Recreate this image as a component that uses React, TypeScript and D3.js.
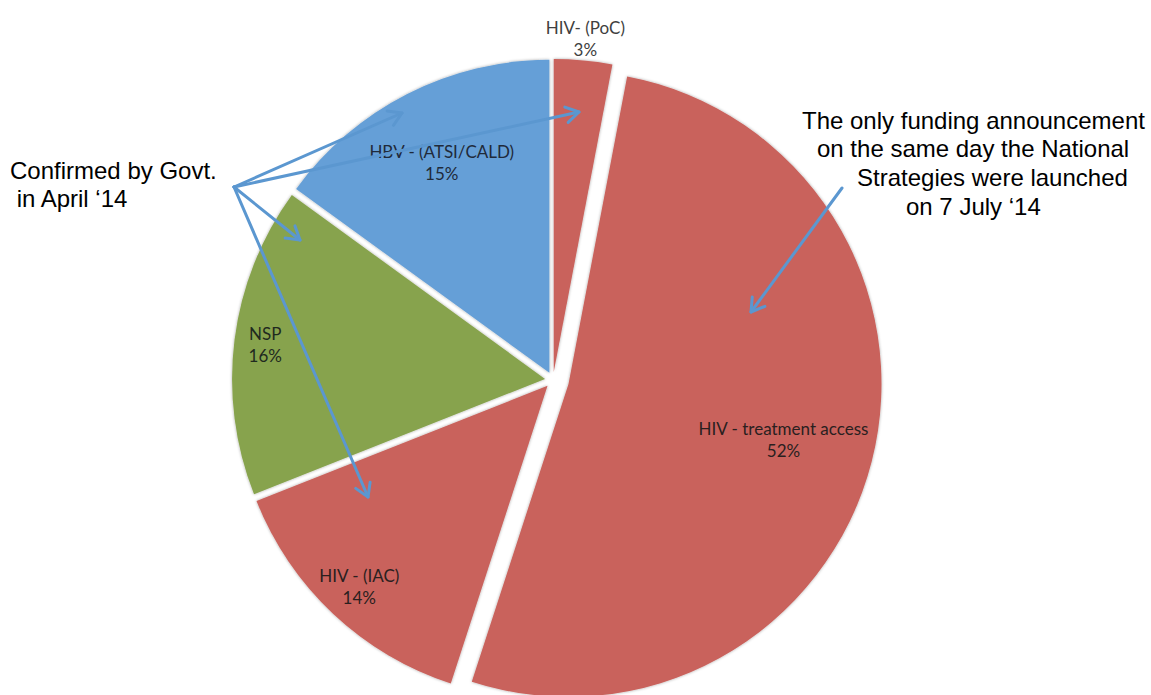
import React from "react";
import * as d3 from "d3";

// ---- data ----
const categories = ["HIV- (PoC)", "HIV - treatment access", "HIV - (IAC)", "NSP", "HBV - (ATSI/CALD)"];
const values = [3, 52, 14, 16, 15];
const percentLabels = ["3%", "52%", "14%", "16%", "15%"];

// ---- styling / layout config ----
const W = 1151;
const H = 695;
const CX = 553;
const CY = 380;
const R = 313;
const sliceColors = ["#C9625C", "#C9625C", "#C9625C", "#87A34D", "#659FD7"];
const explode = [8, 16, 8, 8, 8];
const labelDist = [336, 222, 275, 282, 237];
const labelColors = ["#404040", "#2a1f1f", "#2a1f1f", "#1f2a1f", "#1f2a3a"];

const arrowColor = "#5B97D0";
const leftOrigin: [number, number] = [234, 187];
const leftTargets: [number, number][] = [
  [402, 113],
  [579, 112],
  [300, 240],
  [368, 497],
];
const rightArrow: [[number, number], [number, number]] = [
  [842, 188],
  [751, 312],
];

const leftNote = [
  { text: "Confirmed by Govt.", x: 10, y: 179 },
  { text: " in April \u201814", x: 10, y: 207 },
];
const rightNote = [
  { text: "The only funding announcement", x: 802, y: 129 },
  { text: "on the same day the National", x: 817, y: 157 },
  { text: "Strategies were launched", x: 857, y: 186 },
  { text: "on 7 July \u201814", x: 906, y: 215 },
];

function arrowHead(from: [number, number], to: [number, number], len = 15, spread = 0.55) {
  const ang = Math.atan2(to[1] - from[1], to[0] - from[0]);
  const a1 = ang + Math.PI - spread;
  const a2 = ang + Math.PI + spread;
  const p1 = [to[0] + len * Math.cos(a1), to[1] + len * Math.sin(a1)];
  const p2 = [to[0] + len * Math.cos(a2), to[1] + len * Math.sin(a2)];
  return `M${p1[0]},${p1[1]}L${to[0]},${to[1]}L${p2[0]},${p2[1]}`;
}

export default function App() {
  const pie = d3
    .pie<number>()
    .sort(null)
    .value((d) => d);
  const arcs = pie(values);
  const arcGen = d3.arc<d3.PieArcDatum<number>>().innerRadius(0).outerRadius(R);

  return (
    <svg
      width={W}
      height={H}
      viewBox={`0 0 ${W} ${H}`}
      style={{ position: "absolute", left: 0, top: 0, background: "#fff" }}
    >
      <defs>
        <filter id="shadow" x="-10%" y="-10%" width="120%" height="120%">
          <feDropShadow dx="0" dy="0" stdDeviation="1.8" floodColor="#000" floodOpacity="0.35" />
        </filter>
      </defs>
      <rect width={W} height={H} fill="#fff" />
      <g>
        {arcs.map((a, i) => {
          const mid = (a.startAngle + a.endAngle) / 2;
          const ox = CX + explode[i] * Math.sin(mid);
          const oy = CY - explode[i] * Math.cos(mid);
          return (
            <path
              key={i}
              d={arcGen(a) || ""}
              transform={`translate(${ox},${oy})`}
              fill={sliceColors[i]}
              filter="url(#shadow)"
            />
          );
        })}
      </g>
      <g fontFamily="Lato, 'Open Sans', sans-serif" fontSize={17} textAnchor="middle">
        {arcs.map((a, i) => {
          const mid = (a.startAngle + a.endAngle) / 2;
          const ox = CX + explode[i] * Math.sin(mid);
          const oy = CY - explode[i] * Math.cos(mid);
          const px = ox + labelDist[i] * Math.sin(mid);
          const py = oy - labelDist[i] * Math.cos(mid);
          return (
            <g key={i} fill={labelColors[i]}>
              <text x={px} y={py - 4}>{categories[i]}</text>
              <text x={px} y={py + 18}>{percentLabels[i]}</text>
            </g>
          );
        })}
      </g>
      <g stroke={arrowColor} strokeWidth={3} fill="none" strokeLinecap="round" strokeLinejoin="round">
        {leftTargets.map((t, i) => (
          <g key={i}>
            <line x1={leftOrigin[0]} y1={leftOrigin[1]} x2={t[0]} y2={t[1]} />
            <path d={arrowHead(leftOrigin, t)} />
          </g>
        ))}
        <line x1={rightArrow[0][0]} y1={rightArrow[0][1]} x2={rightArrow[1][0]} y2={rightArrow[1][1]} />
        <path d={arrowHead(rightArrow[0], rightArrow[1])} />
      </g>
      <g fontFamily="'Liberation Sans', Arial, sans-serif" fontSize={24} fill="#000">
        {leftNote.map((l, i) => (
          <text key={i} x={l.x} y={l.y} style={{ whiteSpace: "pre" }}>
            {l.text}
          </text>
        ))}
        {rightNote.map((l, i) => (
          <text key={i} x={l.x} y={l.y}>
            {l.text}
          </text>
        ))}
      </g>
    </svg>
  );
}
